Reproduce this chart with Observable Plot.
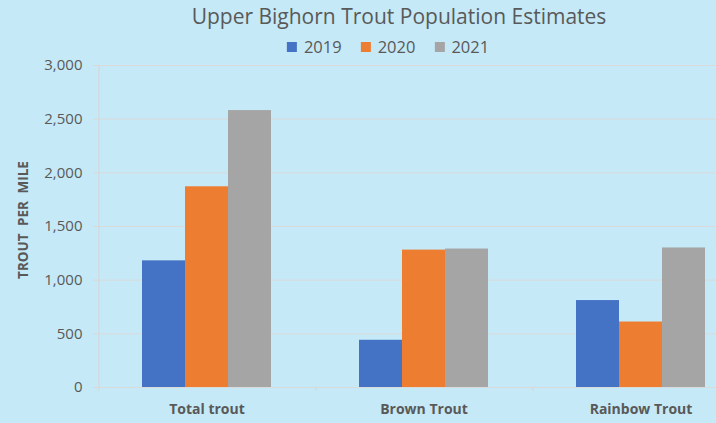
<!DOCTYPE html>
<html><head><meta charset="utf-8">
<script src="https://cdn.jsdelivr.net/npm/d3@7"></script>
<script src="https://cdn.jsdelivr.net/npm/@observablehq/plot@0.6"></script>
<style>
body{margin:0;}
#wrap{position:relative;width:716px;height:423px;overflow:hidden;background:#c5e9f7;font-family:"Open Sans",sans-serif;color:#595959;}
#title{position:absolute;top:2px;left:399px;transform:translateX(-50%);white-space:nowrap;font-size:21px;line-height:28px;}
#legend{position:absolute;top:35px;left:388px;transform:translateX(-50%);display:flex;gap:19px;font-size:16.5px;line-height:24px;white-space:nowrap;}
.item{display:flex;align-items:center;gap:7px;}
.sw{width:10px;height:10px;display:inline-block;}
#ylabel{position:absolute;left:23px;top:220px;transform:translate(-50%,-50%) rotate(-90deg);font-weight:bold;font-size:13.5px;white-space:nowrap;word-spacing:4px;}
#chart{position:absolute;top:58px;left:0;}
</style>
</head><body>
<div id="wrap">
  <div id="title"></div>
  <div id="legend"></div>
  <div id="ylabel"></div>
  <div id="chart"></div>
</div>
<script>
const titleText = "Upper Bighorn Trout Population Estimates";
const yLabel = "TROUT PER MILE";
const categories = ["Total trout", "Brown Trout", "Rainbow Trout"];
const years = ["2019", "2020", "2021"];
const values2019 = [1180, 440, 810];
const values2020 = [1870, 1280, 610];
const values2021 = [2580, 1290, 1300];
const yTicks = [0, 500, 1000, 1500, 2000, 2500, 3000];
const colors = ["#4472c4", "#ed7d31", "#a5a5a5"];

const series = [values2019, values2020, values2021];
const rows = [];
categories.forEach((c, i) => years.forEach((y, j) => rows.push({cat: c, year: y, value: series[j][i]})));

document.getElementById("title").textContent = titleText;
document.getElementById("ylabel").textContent = yLabel;
const leg = document.getElementById("legend");
years.forEach((y, j) => {
  const it = document.createElement("div"); it.className = "item";
  const sw = document.createElement("span"); sw.className = "sw"; sw.style.background = colors[j];
  const t = document.createElement("span"); t.textContent = y;
  it.appendChild(sw); it.appendChild(t); leg.appendChild(it);
});

const W = 749, ML = 98, MR = 0, padOuter = 1;
const facetW = (W - ML - MR) / categories.length;
const step = facetW / (years.length + 2 * padOuter);
const edgeDx = -(padOuter * step + step / 2);

const boundaries = categories.map((c, i) => ({cat: c, top: i === 0 ? 3000 : 0}));

const chart = Plot.plot({
  width: W, height: 365,
  marginLeft: ML, marginRight: MR, marginTop: 7, marginBottom: 36,
  style: {background: "transparent", maxWidth: "none", fontFamily: "'Open Sans', sans-serif", color: "#595959", overflow: "visible"},
  fx: {domain: categories, padding: 0, label: null},
  x: {domain: years, paddingInner: 0, paddingOuter: padOuter, axis: null},
  y: {domain: [0, 3000]},
  color: {domain: years, range: colors},
  marks: [
    Plot.gridY(yTicks, {stroke: "#dadada", strokeOpacity: 1}),
    Plot.ruleX(boundaries, {fx: "cat", x: () => years[0], y1: -35, y2: "top", dx: edgeDx, stroke: "#d6d6d6"}),
    Plot.barY(rows, {fx: "cat", x: "year", y: "value", fill: "year"}),
    Plot.axisY({ticks: yTicks, tickFormat: d3.format(","), tickSize: 5, tickPadding: 11, stroke: "#d9d9d9", fill: "#595959", fontSize: 15, label: null}),
    Plot.axisFx({anchor: "bottom", tickSize: 0, tickPadding: 17, fontSize: 14, fontWeight: "bold", fill: "#595959", label: null})
  ]
});
document.getElementById("chart").appendChild(chart);
</script>
</body></html>
